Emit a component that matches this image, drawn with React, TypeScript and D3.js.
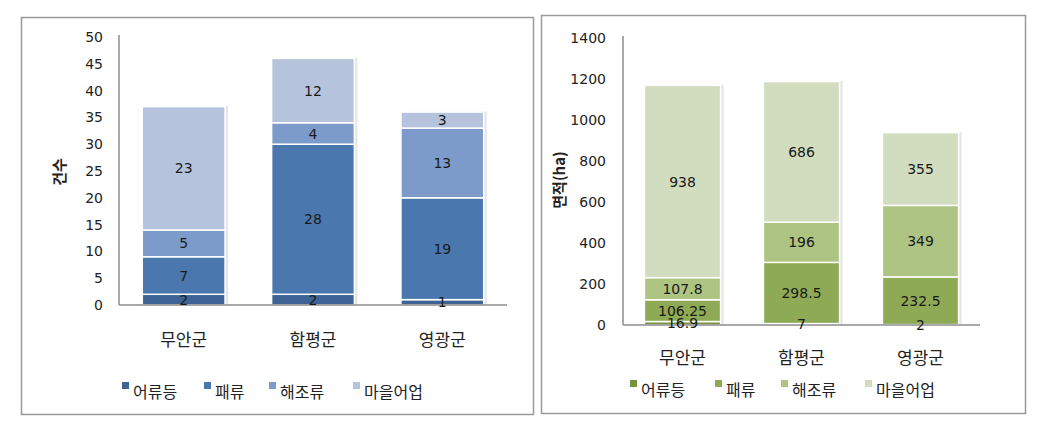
import React from "react";
import * as d3 from "d3";

const categories = ["무안군", "함평군", "영광군"];
const seriesNames = ["어류등", "패류", "해조류", "마을어업"];

const countEorYu = [2, 2, 1];
const countPae = [7, 28, 19];
const countHaejo = [5, 4, 13];
const countMaeul = [23, 12, 3];

const areaEorYu = [16.9, 7, 2];
const areaPae = [106.25, 298.5, 232.5];
const areaHaejo = [107.8, 196, 349];
const areaMaeul = [938, 686, 355];

const countTicks = [0, 5, 10, 15, 20, 25, 30, 35, 40, 45, 50];
const areaTicks = [0, 200, 400, 600, 800, 1000, 1200, 1400];

const blueColors = ["#3e6496", "#4a77ae", "#7d9bca", "#b5c3dd"];
const greenColors = ["#77933c", "#8eaa55", "#aec482", "#d2dcbe"];

const FONT = "'Noto Sans CJK KR', 'Noto Sans', sans-serif";
const NUMFONT = "'DejaVu Sans', 'Noto Sans CJK KR', sans-serif";

type PanelProps = {
  frame: { x0: number; y0: number; x1: number; y1: number };
  series: number[][];
  colors: string[];
  ticks: number[];
  yMax: number;
  yRange: [number, number];
  xRange: [number, number];
  tickX: number;
  title: string;
  titlePos: [number, number];
  catY: number;
  legendY: number;
  legendXs: number[];
};

function Panel(p: PanelProps) {
  const y = d3.scaleLinear().domain([0, p.yMax]).range(p.yRange);
  const x = d3.scaleBand<string>().domain(categories).range(p.xRange).paddingInner(0.36).paddingOuter(0.18);
  const data = categories.map((c, i) => {
    const row: any = { cat: c };
    seriesNames.forEach((s, k) => (row[s] = p.series[k][i]));
    return row;
  });
  const stacked = d3.stack<any>().keys(seriesNames)(data);
  const fmt = (v: number) => String(v);
  return (
    <g>
      <rect
        x={p.frame.x0 + 0.5}
        y={p.frame.y0 + 0.5}
        width={p.frame.x1 - p.frame.x0}
        height={p.frame.y1 - p.frame.y0}
        fill="#fff"
        stroke="#9a9a9a"
        strokeWidth={1.5}
      />
      {p.ticks.map((t) => (
        <text key={t} x={p.tickX} y={y(t)} dy="0.36em" textAnchor="end" fontSize={14} fontFamily={NUMFONT} fill="#222">
          {t}
        </text>
      ))}
      {categories.map((c, i) => {
        const top = stacked[stacked.length - 1][i][1];
        return (
          <rect key={"sh" + c} x={(x(c) as number) + 1.5} y={y(top) - 0.5} width={x.bandwidth() + 1.5} height={y(0) - y(top)} fill="#e6e6e6" />
        );
      })}
      {stacked.map((s, k) => (
        <g key={s.key}>
          {s.map((d, i) => (
            <rect
              key={i}
              x={x(categories[i])}
              y={y(d[1])}
              width={x.bandwidth()}
              height={y(d[0]) - y(d[1])}
              fill={p.colors[k]}
              stroke="#fff"
              strokeWidth={1.5}
            />
          ))}
        </g>
      ))}
      <line x1={p.xRange[0]} x2={p.xRange[0]} y1={p.yRange[1] - 2} y2={p.yRange[0]} stroke="#8c8c8c" strokeWidth={1.5} />
      <line x1={p.xRange[0]} x2={p.xRange[1]} y1={p.yRange[0]} y2={p.yRange[0]} stroke="#8c8c8c" strokeWidth={1.5} />
      {stacked.map((s, k) => (
        <g key={"l" + s.key}>
          {s.map((d, i) => (
            <text
              key={i}
              x={(x(categories[i]) as number) + x.bandwidth() / 2}
              y={(y(d[0]) + y(d[1])) / 2}
              dy="0.36em"
              textAnchor="middle"
              fontSize={14}
              fontFamily={NUMFONT}
              fill="#1a1a1a"
            >
              {fmt(p.series[k][i])}
            </text>
          ))}
        </g>
      ))}
      {categories.map((c) => (
        <text key={"c" + c} x={(x(c) as number) + x.bandwidth() / 2} y={p.catY} dy="0.36em" textAnchor="middle" fontSize={17} fontFamily={FONT} fill="#222">
          {c}
        </text>
      ))}
      <text
        transform={`translate(${p.titlePos[0]},${p.titlePos[1]}) rotate(-90)`}
        textAnchor="middle"
        dy="0.36em"
        fontSize={15}
        fontWeight="bold"
        fontFamily={FONT}
        fill="#222"
      >
        {p.title}
      </text>
      {seriesNames.map((s, k) => (
        <g key={"lg" + s}>
          <rect x={p.legendXs[k]} y={p.legendY - 10} width={7} height={7} fill={p.colors[k]} />
          <text x={p.legendXs[k] + 11} y={p.legendY} dy="0.36em" fontSize={16} fontFamily={FONT} fill="#222">
            {s}
          </text>
        </g>
      ))}
    </g>
  );
}

export default function App() {
  return (
    <svg width={1048} height={424} style={{ position: "absolute", left: 0, top: 0, background: "#fff" }}>
      <rect width={1048} height={424} fill="#fff" />
      <Panel
        frame={{ x0: 21, y0: 17, x1: 533, y1: 414 }}
        series={[countEorYu, countPae, countHaejo, countMaeul]}
        colors={blueColors}
        ticks={countTicks}
        yMax={50}
        yRange={[305, 37]}
        xRange={[119, 507]}
        tickX={103}
        title="건수"
        titlePos={[60, 172]}
        catY={340}
        legendY={392}
        legendXs={[122, 204, 269, 353]}
      />
      <Panel
        frame={{ x0: 541, y0: 15, x1: 1025, y1: 413 }}
        series={[areaEorYu, areaPae, areaHaejo, areaMaeul]}
        colors={greenColors}
        ticks={areaTicks}
        yMax={1400}
        yRange={[325, 38]}
        xRange={[623, 980]}
        tickX={606}
        title="면적(ha)"
        titlePos={[560, 180]}
        catY={358}
        legendY={390}
        legendXs={[630, 715, 781, 865]}
      />
    </svg>
  );
}
